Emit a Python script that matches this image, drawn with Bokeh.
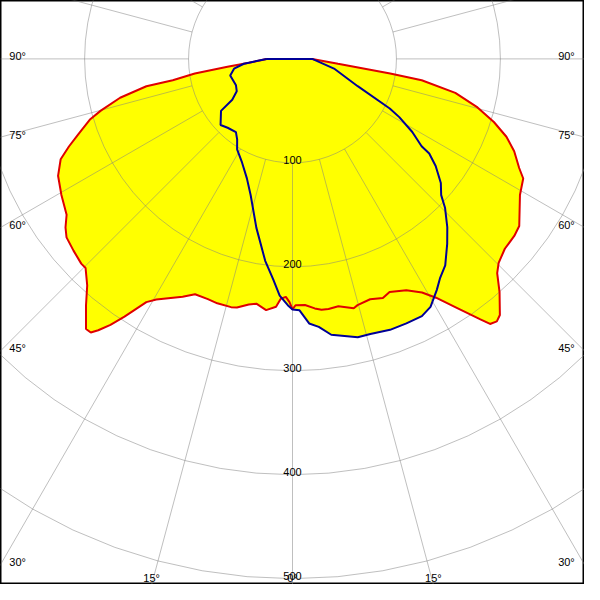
import numpy as np
from bokeh.plotting import figure
from bokeh.models import Range1d
from bokeh.embed import file_html
from bokeh.resources import INLINE
from bokeh.core.properties import value

# ---------------- data (cd/klm versus gamma angle, degrees) ----------------
# C180 half plane (left, red), gamma from 90 down to 0
c180_gamma = [90, 84.9, 83.2, 81.5, 79.9, 79.4, 77.3, 74.9, 73.4, 70.7,
              68.6, 66.6, 63.5, 59.5, 55.4, 53.4, 51.7, 48.8, 45.9, 44.7,
              42.2, 40.0, 37.4, 36.4, 35.6, 34.4, 33.1, 31.0, 29.5, 24.8,
              22.5, 19.4, 17.1, 13.9, 12.6, 10.1, 8.4, 6.0, 3.8, 2.8,
              1.6, 0.7, 0]
c180_cd = [25, 42, 63, 95, 117, 143, 170, 191, 203, 218,
           231, 243, 252, 258, 264, 272, 277, 280, 283, 283,
           294, 309, 327, 327, 321, 310, 296, 273, 266, 252,
           245, 245, 246, 246, 245, 240, 238, 243, 239, 231,
           229, 234, 241]
# C0 half plane (right, red), gamma from 0 up to 90
c0_gamma = [0.7, 2.9, 5.1, 6.6, 8.2, 10.5, 13.8, 14.8, 17.9, 20.7,
            22.6, 26.2, 29.0, 31.0, 33.2, 35.8, 36.7, 37.9, 39.0, 41.6,
            43.7, 45.3, 48.2, 51.4, 53.6, 59.1, 62.6, 64.3, 67.4, 70.0,
            72.6, 75.3, 78.2, 80.6, 81.5, 83.9, 90]
c0_cd = [237, 237, 241, 243, 243, 242, 247, 245, 243, 246,
         243, 248, 257, 268, 285, 309, 318, 320, 317, 300,
         285, 279, 274, 273, 271, 255, 250, 242, 231, 219,
         203, 184, 160, 126, 95, 44, 19]
# C270 half plane (left, blue), gamma from 90 down to 0
c270_gamma = [90, 84.3, 80.5, 75.1, 65.0, 59.9, 55.9, 54.0, 47.4, 43.3,
              37.7, 34.5, 31.5, 25.9, 20.9, 17.1, 12.1, 7.7, 5.0, 3.1,
              1.1, 0]
c270_cd = [25, 47, 57, 62, 60, 62, 70, 85, 94, 91,
           89, 94, 102, 111, 123, 137, 166, 196, 213, 228,
           237, 241]
# C90 half plane (right, blue), gamma from 0 up to 90
c90_gamma = [1.6, 3.6, 5.6, 8.0, 13.2, 15.8, 19.8, 23.3, 26.7, 29.1,
             32.0, 34.0, 36.5, 39.9, 42.6, 45.7, 47.5, 50.1, 53.2, 55.3,
             55.9, 58.6, 61.4, 63.0, 67.3, 76.9, 90]
c90_cd = [242, 255, 259, 268, 275, 275, 277, 277, 277, 273,
          262, 254, 247, 232, 220, 205, 194, 186, 172, 160,
          150, 135, 117, 105, 68, 41, 19]

ring_values = [100, 200, 300, 400, 500]
ring_labels = ["100", "200", "300", "400", "500"]
side_angles = [90, 75, 60, 45, 30]
side_labels = ["90°", "75°", "60°", "45°", "30°"]
bottom_angles = [-15, 0, 15]
bottom_labels = ["15°", "0°", "15°"]

# ---------------- geometry ----------------
REF_K = 1.068        # sheet pixels per cd/klm on the 600 px sheet
CX, CY = 300, 60     # pole position on the 600 x 600 sheet
SHEET = 600
W = 584
S = W / SHEET        # sheet -> screen scale


def polar(gamma, cd, side):
    g = np.radians(np.asarray(gamma, dtype=float))
    r = np.asarray(cd, dtype=float)
    return side * r * np.sin(g), -r * np.cos(g)


def curve(lg, lc, rg, rc):
    xl, yl = polar(lg, lc, -1)
    xr, yr = polar(rg, rc, 1)
    x = np.concatenate([xl, xr, xl[:1]])
    y = np.concatenate([yl, yr, yl[:1]])
    return x, y


rx, ry = curve(c180_gamma, c180_cd, c0_gamma, c0_cd)
bx, by = curve(c270_gamma, c270_cd, c90_gamma, c90_cd)

x0, x1 = -CX / REF_K, (SHEET - CX) / REF_K
y0, y1 = (CY - SHEET) / REF_K, CY / REF_K

p = figure(width=W, height=W, output_backend="svg", toolbar_location=None,
           x_range=Range1d(x0, x1), y_range=Range1d(y0, y1), min_border=0)
p.axis.visible = False
p.grid.visible = False
p.background_fill_color = "white"
p.border_fill_color = "white"
p.outline_line_color = "black"
p.outline_line_width = 2

# fills (union of both planes)
p.patch(rx, ry, fill_color="#ffff00", line_color=None)
p.patch(bx, by, fill_color="#ffff00", line_color=None)

# grid: rings and rays (rays start at the first ring)
t = np.radians(np.arange(0, 361, 5))
ring_xs = [list(r * np.sin(t)) for r in ring_values]
ring_ys = [list(-r * np.cos(t)) for r in ring_values]
p.multi_line(ring_xs, ring_ys, line_color="#7f7f7f", line_alpha=0.5, line_width=1)
ray_xs, ray_ys = [], []
for a in range(0, 360, 15):
    ar = np.radians(a)
    ray_xs.append([ring_values[0] * np.sin(ar), 800 * np.sin(ar)])
    ray_ys.append([-ring_values[0] * np.cos(ar), -800 * np.cos(ar)])
p.multi_line(ray_xs, ray_ys, line_color="#7f7f7f", line_alpha=0.5, line_width=1)

# curves
p.line(rx, ry, line_color="#e00000", line_width=2)
p.line(bx, by, line_color="#000096", line_width=2)

font = value("Liberation Sans")
fs = "11px"

# ring labels
p.text(x=[0] * len(ring_values), y=[-v for v in ring_values], text=ring_labels,
       text_align="center", text_baseline="alphabetic", y_offset=-2.5 * S,
       text_font=font, text_font_size=fs, text_color="black")

# side angle labels: at the height where each ray meets the sheet edge
ys = [x0 / np.tan(np.radians(a)) if a != 90 else 0.0 for a in side_angles]
p.text(x=[x0] * len(ys), y=ys, text=side_labels, x_offset=9 * S,
       y_offset=-2.5 * S, text_align="left", text_baseline="alphabetic",
       text_font=font, text_font_size=fs, text_color="black")
p.text(x=[x1] * len(ys), y=ys, text=side_labels, x_offset=-10 * S,
       y_offset=-2.5 * S, text_align="right", text_baseline="alphabetic",
       text_font=font, text_font_size=fs, text_color="black")

# bottom angle labels: where the rays meet the bottom edge
bxs = [-y0 * np.tan(np.radians(a)) for a in bottom_angles]
p.text(x=bxs, y=[y0] * len(bxs), text=bottom_labels, y_offset=-7 * S,
       text_align="center", text_baseline="alphabetic",
       text_font=font, text_font_size=fs, text_color="black")

open("out.html", "w").write(file_html(p, INLINE))
